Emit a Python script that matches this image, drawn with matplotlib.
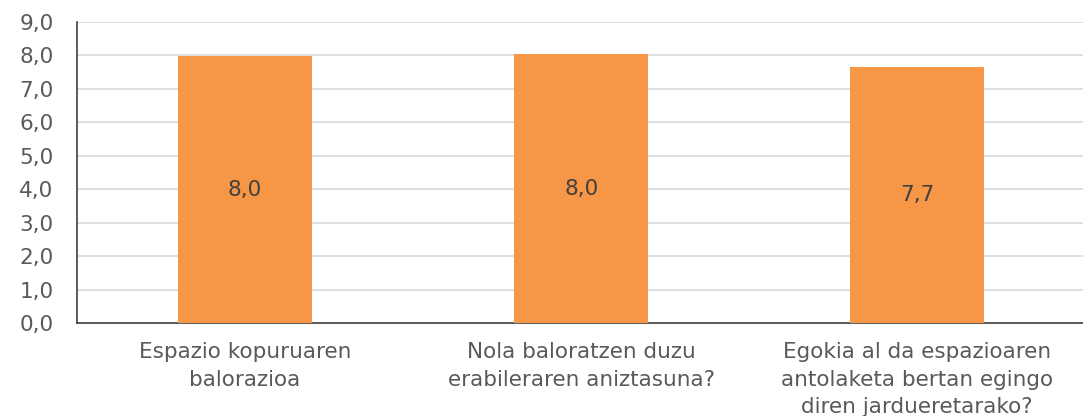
import matplotlib
matplotlib.use('Agg')
import matplotlib.pyplot as plt

categories = [
    'Espazio kopuruaren\nbalorazioa',
    'Nola baloratzen duzu\nerabileraren aniztasuna?',
    'Egokia al da espazioaren\nantolaketa bertan egingo\ndiren jardueretarako?',
]
values = [7.98, 8.04, 7.67]
bar_labels = ['8,0', '8,0', '7,7']
yticks = [0, 1, 2, 3, 4, 5, 6, 7, 8, 9]

plt.rcParams['font.family'] = ['DejaVu Sans']

fig = plt.figure(figsize=(10.83, 4.16), dpi=100)
ax = fig.add_axes([0.0711, 0.2236, 0.931, 0.7234])

x = list(range(len(categories)))
bars = ax.bar(x, values, width=0.4, color='#f79646', zorder=3)

for b, lab in zip(bars, bar_labels):
    ax.text(b.get_x() + b.get_width() / 2, b.get_height() / 2, lab,
            ha='center', va='center', fontsize=15.5, color='#404040', zorder=4)

ax.set_xlim(-0.5, len(categories) - 0.5)
ax.set_ylim(0, 9)
ax.set_yticks(yticks)
ax.set_yticklabels([f'{t:.1f}'.replace('.', ',') for t in yticks])
ax.set_xticks(x)
ax.set_xticklabels(categories, linespacing=1.45)

ax.tick_params(axis='x', labelsize=15.5, labelcolor='#595959', length=0, pad=14)
ax.tick_params(axis='y', labelsize=15.5, labelcolor='#595959', length=0, pad=17)

ax.yaxis.grid(True, color='#d9d9d9', linewidth=1.2, zorder=0)
ax.set_axisbelow(True)
for s in ['top', 'right']:
    ax.spines[s].set_visible(False)
ax.spines['left'].set_color('#404040')
ax.spines['bottom'].set_color('#404040')
ax.spines['left'].set_linewidth(1.2)
ax.spines['bottom'].set_linewidth(1.2)

fig.savefig('out.png', dpi=100)
